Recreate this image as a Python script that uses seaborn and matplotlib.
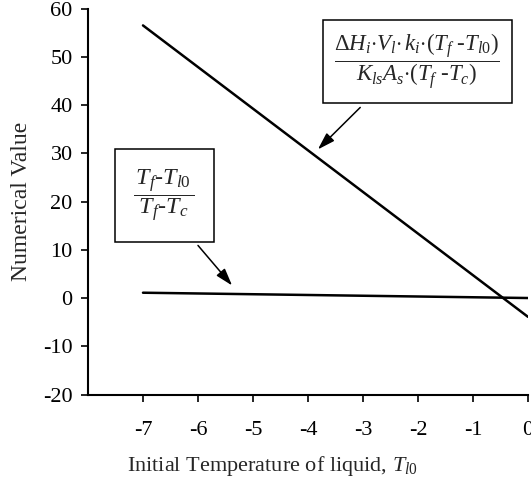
import numpy as np
import pandas as pd
import matplotlib.pyplot as plt
import seaborn as sns

# Data (straight lines, endpoints only)
temp_start_end = [-7, 0]
heat_ratio = [56.5, -3.9]      # big formula line
temp_ratio = [1.1, 0.0]        # (Tf - Tl0)/(Tf - Tc)

x_ticks = [-7, -6, -5, -4, -3, -2, -1, 0]
y_ticks = [-20, -10, 0, 10, 20, 30, 40, 50, 60]

df = pd.DataFrame({
    'x': temp_start_end * 2,
    'y': heat_ratio + temp_ratio,
    'series': ['heat'] * 2 + ['temp'] * 2,
})

sns.set_style('ticks')
plt.rcParams['font.family'] = ['Liberation Serif', 'DejaVu Serif']
plt.rcParams['mathtext.fontset'] = 'custom'
plt.rcParams['mathtext.rm'] = 'Liberation Serif'
plt.rcParams['mathtext.it'] = 'Liberation Serif:italic'
plt.rcParams['mathtext.bf'] = 'Liberation Serif:bold'

fig = plt.figure(figsize=(5.31, 4.82), dpi=100)
ax = fig.add_axes([0.1657, 0.1815, 0.8286, 0.8008])

sns.lineplot(data=df, x='x', y='y', hue='series', palette=['black', 'black'],
             linewidth=1.8, legend=False, ax=ax)

ax.set_xlim(-8, 0)
ax.set_ylim(-20, 60)
ax.set_xticks(x_ticks)
ax.set_yticks(y_ticks)
ax.set_xticklabels([str(t) for t in x_ticks])
ax.set_yticklabels([str(t) for t in y_ticks])
ax.tick_params(direction='out', length=5, width=1.2, labelsize=16, colors='black', pad=6)
ax.tick_params(axis='x', pad=14)
for side in ['top', 'right']:
    ax.spines[side].set_visible(False)
for side in ['left', 'bottom']:
    ax.spines[side].set_linewidth(1.5)
    ax.spines[side].set_color('black')

ax.set_xlabel(r'Initial Temperature of liquid, $T_{l0}$', fontsize=16)
ax.xaxis.set_label_coords(0.42, -0.155)
ax.set_ylabel('Numerical Value', fontsize=17, labelpad=8)

box1 = dict(boxstyle='square,pad=0.5', facecolor='white', edgecolor='black', linewidth=1.1)
box2 = dict(boxstyle='square,pad=0.75', facecolor='white', edgecolor='black', linewidth=1.1)
ax.text(-2.01, 49.0,
        r'$\dfrac{\Delta H_i{\cdot}V_l{\cdot}\, k_i{\cdot}(T_f\ \text{-}T_{l0})}{K_{ls}A_s{\cdot}(T_f\ \text{-}T_c)}$',
        fontsize=16.5, ha='center', va='center', bbox=box1)
ax.text(-6.61, 21.2, r'$\dfrac{\,T_f\text{-}T_{l0}\,}{\,T_f\text{-}T_c\,}$',
        fontsize=17.5, ha='center', va='center', bbox=box2)

arrow = dict(arrowstyle='-|>,head_length=0.7,head_width=0.22', color='black',
             lw=1.1, mutation_scale=15, shrinkA=0, shrinkB=0)
ax.annotate('', xy=(-3.82, 30.8), xytext=(-3.05, 39.5), arrowprops=arrow)
ax.annotate('', xy=(-5.38, 2.6), xytext=(-6.0, 10.9), arrowprops=arrow)

fig.savefig('out.png', dpi=100)
